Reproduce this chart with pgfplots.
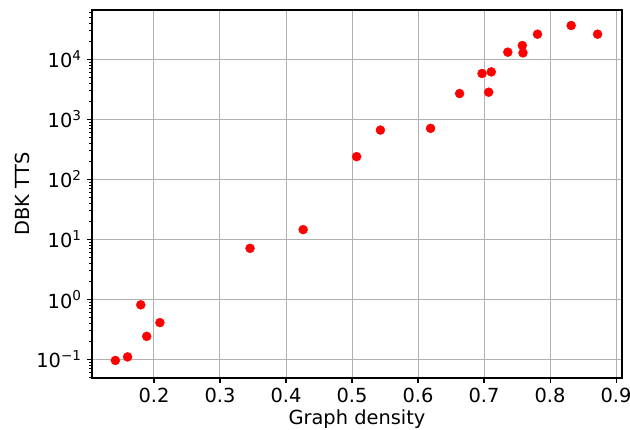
\documentclass[border=0pt]{standalone}
\usepackage{fontspec}
\setmainfont{DejaVu Sans}
\usepackage{pgfplots}
\pgfplotsset{compat=1.18}
\pgfplotstableread{
x y
0.1415 0.096
0.160 0.110
0.180 0.81
0.189 0.242
0.209 0.41
0.3455 7.08
0.426 14.5
0.507 238
0.543 660
0.619 705
0.663 2680
0.697 5780
0.707 2820
0.711 6150
0.736 13090
0.758 16900
0.759 12740
0.781 26100
0.832 36400
0.872 26100
}\datatable
\definecolor{gridgray}{HTML}{B0B0B0}
\begin{document}
\begin{tikzpicture}
\begin{axis}[
  scale only axis, width=530pt, height=368pt,
  xmin=0.1061, xmax=0.909,
  ymode=log, ymin=0.049, ymax=66000,
  font=\fontsize{19.4}{23}\selectfont,
  xtick={0.2,0.3,0.4,0.5,0.6,0.7,0.8,0.9},
  xticklabels={0.2,0.3,0.4,0.5,0.6,0.7,0.8,0.9},
  ytick={0.1,1,10,100,1000,10000},
  yticklabels={10\textsuperscript{−1},10\textsuperscript{0},10\textsuperscript{1},10\textsuperscript{2},10\textsuperscript{3},10\textsuperscript{4}},
  minor ytick={0.05,0.06,0.07,0.08,0.09,0.2,0.3,0.4,0.5,0.6,0.7,0.8,0.9,2,3,4,5,6,7,8,9,20,30,40,50,60,70,80,90,200,300,400,500,600,700,800,900,2000,3000,4000,5000,6000,7000,8000,9000,20000,30000,40000,50000,60000},
  xtick pos=left, ytick pos=left,
  tick align=outside,
  major tick length=4.9pt, minor tick length=2.8pt,
  every tick/.style={black, line width=1.1pt},
  minor tick style={line width=0.8pt},
  grid=major,
  major grid style={gridgray, line width=1.0pt},
  axis line style={black, line width=1.1pt},
  xlabel={Graph density}, ylabel={DBK TTS},
  xticklabel style={yshift=-2pt},
  yticklabel style={xshift=-2pt},
  clip=false,
]
\addplot[only marks, mark=*, mark size=4.5pt, color=red, mark options={fill=red, draw=red}] table[x=x,y=y] {\datatable};
\coordinate (ll) at (rel axis cs:0,0);
\coordinate (ur) at (rel axis cs:1,1);
\end{axis}
\pgfresetboundingbox
\path[use as bounding box] ([shift={(-92pt,-52pt)}]ll) rectangle ([shift={(8pt,10pt)}]ur);
\end{tikzpicture}
\end{document}
